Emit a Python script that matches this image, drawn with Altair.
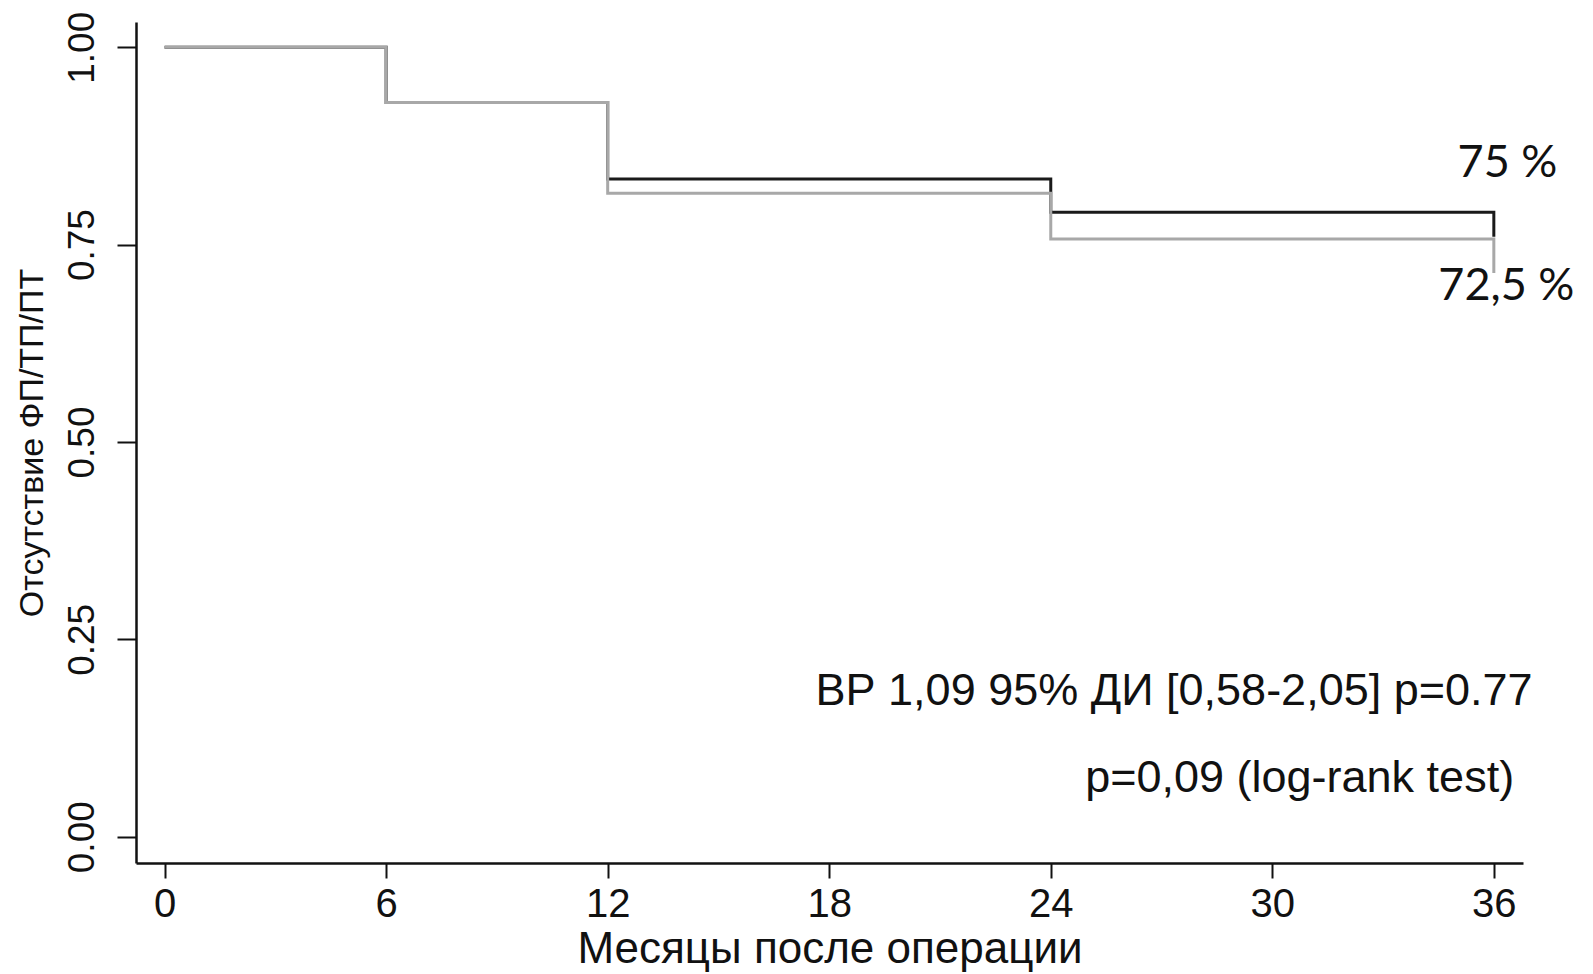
import altair as alt
import pandas as pd

# Kaplan-Meier step data (months, survival)
black_t = [0, 6, 12, 24, 36, 36]
black_s = [1.00, 0.930, 0.833, 0.791, 0.791, 0.760]
gray_t = [0, 6, 12, 24, 36, 36]
gray_s = [1.00, 0.930, 0.815, 0.757, 0.757, 0.714]

x_ticks = [0, 6, 12, 18, 24, 30, 36]
y_ticks = [0.0, 0.25, 0.5, 0.75, 1.0]

pct_labels = ["75 %", "72,5 %"]
pct_x = [36.37, 36.34]
pct_y = [0.853, 0.698]

stat_labels = ["ВР 1,09 95% ДИ [0,58-2,05] p=0.77", "p=0,09 (log-rank test)"]
stat_x = [37.05, 36.55]
stat_y = [0.185, 0.075]

rows = []
for i, (t, s) in enumerate(zip(gray_t, gray_s)):
    rows.append({"t": t, "s": s, "grp": "gray", "i": i})
for i, (t, s) in enumerate(zip(black_t, black_s)):
    rows.append({"t": t, "s": s, "grp": "black", "i": i})
df = pd.DataFrame(rows)

FONT = "Liberation Sans, Arial"

xsc = alt.Scale(domain=[-0.775, 36.79], nice=False, zero=False)
ysc = alt.Scale(domain=[-0.0333, 1.032], nice=False, zero=False)

xaxis = alt.Axis(values=x_ticks, title="Месяцы после операции", grid=False,
                 domainColor="#111", domainWidth=2.5, tickColor="#111", tickWidth=2,
                 tickSize=15, labelFont=FONT, labelFontSize=40, labelColor="#111",
                 labelPadding=6, titleFont=FONT, titleFontSize=44,
                 titleFontWeight="normal", titleColor="#111", titlePadding=3,
                 labelFlush=False, format="d")
yaxis = alt.Axis(values=y_ticks, title="Отсутствие ФП/ТП/ПТ", grid=False,
                 domainColor="#111", domainWidth=2.5, tickColor="#111", tickWidth=2,
                 tickSize=19, labelFont=FONT, labelFontSize=37, labelColor="#111",
                 labelAngle=270, labelAlign="center", labelBaseline="alphabetic",
                 labelPadding=24, titleFont=FONT, titleFontSize=34,
                 titleFontWeight="normal", titleColor="#111", titlePadding=14,
                 labelFlush=False, format=".2f")

black_line = alt.Chart(df[df.grp == "black"]).mark_line(
    interpolate="step-after", strokeWidth=3, color="#1a1a1a").encode(
    x=alt.X("t:Q", scale=xsc, axis=xaxis),
    y=alt.Y("s:Q", scale=ysc, axis=yaxis),
    order="i:Q",
)
gray_line = alt.Chart(df[df.grp == "gray"]).mark_line(
    interpolate="step-after", strokeWidth=3, color="#a8a8a8").encode(
    x=alt.X("t:Q", scale=xsc),
    y=alt.Y("s:Q", scale=ysc),
    order="i:Q",
)

pct_df = pd.DataFrame({"x": pct_x, "y": pct_y, "label": pct_labels})
pct = alt.Chart(pct_df).mark_text(font="Lato", fontSize=45, color="#111",
                                  align="center", baseline="middle").encode(
    x=alt.X("x:Q", scale=xsc), y=alt.Y("y:Q", scale=ysc), text="label:N")

stat_df = pd.DataFrame({"x": stat_x, "y": stat_y, "label": stat_labels})
stat = alt.Chart(stat_df).mark_text(font=FONT, fontSize=45, color="#111",
                                    align="right", baseline="middle").encode(
    x=alt.X("x:Q", scale=xsc), y=alt.Y("y:Q", scale=ysc), text="label:N")

chart = alt.layer(black_line, gray_line, pct, stat).properties(
    width=1387, height=841,
    padding={"left": 136, "top": 22, "right": 70, "bottom": 111},
    autosize=alt.AutoSizeParams(type="none"),
    background="white",
).configure_view(stroke=None)

chart.save("out.html", embed_options={"renderer": "svg", "actions": False})
